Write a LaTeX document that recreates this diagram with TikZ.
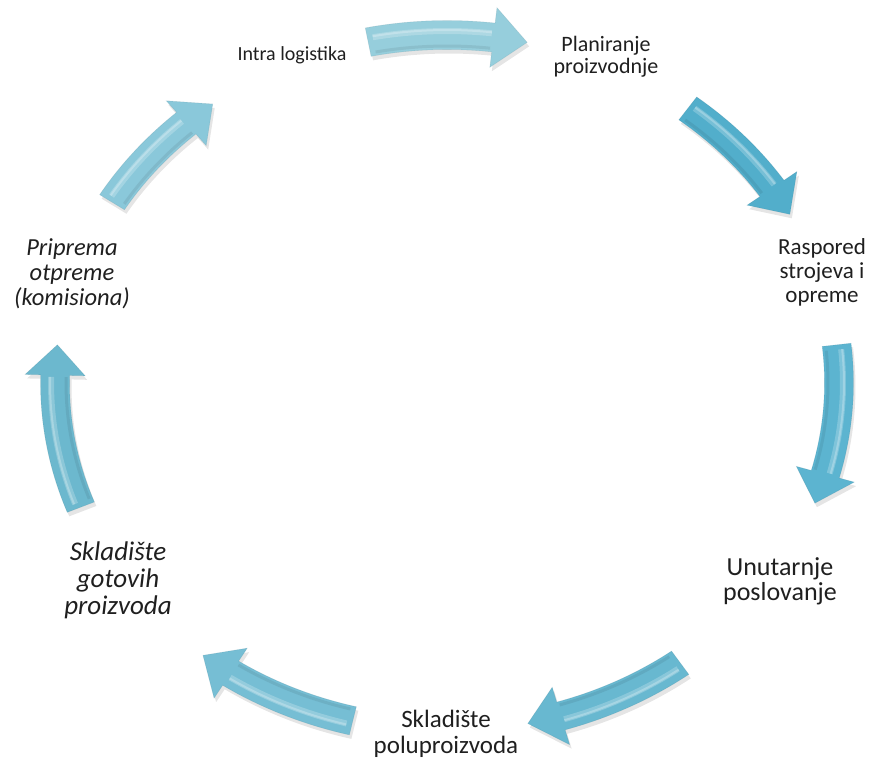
\documentclass[tikz,border=0pt]{standalone}
\usepackage{fontspec}
\setmainfont{Carlito}
\tikzset{
  lbl/.style={align=center, inner sep=0pt, text=black!88},
}
\def\cx{447}\def\cy{383}\def\rx{392}\def\ry{348}
\def\wb{14.5}\def\hw{30}\def\hl{5}
\newcommand\arrowpath{%
  plot[domain=\cAa:\cAh, samples=24] ({\cx+(\rx+\wb)*cos(\x)},{\cy+(\ry+\wb)*sin(\x)})
  -- ({\cx+(\rx+\hw)*cos(\cAh)},{\cy+(\ry+\hw)*sin(\cAh)})
  -- ({\cx+\rx*cos(\cAb)},{\cy+\ry*sin(\cAb)})
  -- ({\cx+(\rx-\hw)*cos(\cAh)},{\cy+(\ry-\hw)*sin(\cAh)})
  -- plot[domain=\cAh:\cAa, samples=24] ({\cx+(\rx-\wb)*cos(\x)},{\cy+(\ry-\wb)*sin(\x)})
  -- cycle}
\newcommand\cyclearrow[3]{%
  \pgfmathsetmacro\cAa{#1}%
  \pgfmathsetmacro\cAb{#2}%
  \pgfmathsetmacro\cAh{#2-\hl}%
  \pgfmathsetmacro\cAs{#1+0.8}%
  \pgfmathsetmacro\cAe{#2-\hl-0.3}%
  \fill[black, opacity=.10, transform canvas={shift={(2pt,-4pt)}}] \arrowpath;
  \fill[#3] \arrowpath;
  \draw[#3!70!black, opacity=.2, line width=0.6pt] \arrowpath;
  \draw[white, opacity=.22, line width=6pt]
    plot[domain=\cAs:\cAe, samples=20] ({\cx+(\rx+4)*cos(\x)},{\cy+(\ry+4)*sin(\x)});
  \draw[white, opacity=.25, line width=2pt]
    plot[domain=\cAs:\cAe, samples=20] ({\cx+(\rx+5)*cos(\x)},{\cy+(\ry+5)*sin(\x)});
  \draw[#3!60!black, opacity=.18, line width=3pt]
    plot[domain=\cAs:\cAe, samples=20] ({\cx+(\rx-11)*cos(\x)},{\cy+(\ry-11)*sin(\x)});
}
\definecolor{aA}{RGB}{150,206,220}
\definecolor{aB}{RGB}{82,174,203}
\definecolor{aC}{RGB}{92,180,208}
\definecolor{aD}{RGB}{104,184,208}
\definecolor{aE}{RGB}{118,190,212}
\definecolor{aF}{RGB}{108,184,206}
\definecolor{aG}{RGB}{138,200,218}
\begin{document}
\begin{tikzpicture}[x=1pt, y=-1pt]
  \useasboundingbox (0,0) rectangle (873,764);
  % arrows
  \cyclearrow{258.4}{281.8}{aA}
  \cyclearrow{307.9}{331}{aB}
  \cyclearrow{353.7}{380.2}{aC}
  \cyclearrow{53.5}{78.1}{aD}
  \cyclearrow{103.9}{128.5}{aE}
  \cyclearrow{159.1}{186.3}{aF}
  \cyclearrow{211.3}{233.3}{aG}
  % labels
  \node[lbl, font=\fontsize{20}{22}\selectfont] (intra) at (292,55) {Intra logistika};
  \node[lbl, font=\fontsize{22}{22}\selectfont] (plan) at (606,57) {Planiranje\\proizvodnje};
  \node[lbl, font=\fontsize{23}{24}\selectfont] (rasp) at (822,272) {Raspored\\strojeva i\\opreme};
  \node[lbl, font=\fontsize{26}{25}\selectfont] (unut) at (780,581) {Unutarnje\\poslovanje};
  \node[lbl, font=\fontsize{25}{26}\selectfont] (skpol) at (446,734) {Skladište\\poluproizvoda};
  \node[lbl, font=\fontsize{27}{27}\selectfont\itshape] (skgot) at (118,580) {Skladište\\gotovih\\proizvoda};
  \node[lbl, font=\fontsize{24.5}{25}\selectfont\itshape] (prip) at (72,274) {Priprema\\otpreme\\(komisiona)};
\end{tikzpicture}
\end{document}
